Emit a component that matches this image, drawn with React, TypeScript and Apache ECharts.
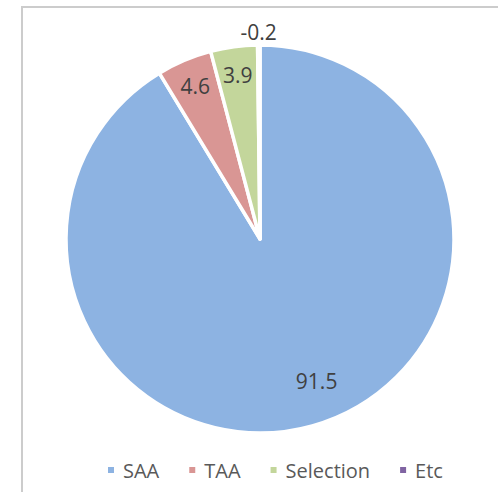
import React, { useEffect, useRef } from "react";
import * as echarts from "echarts";

const categories = ["SAA", "TAA", "Selection", "Etc"];
const values = [91.5, 4.6, 3.9, -0.2];
const colors = ["#8db3e2", "#d99694", "#c3d69b", "#8064a2"];

const CX = 260;
const CY = 239;
const R = 194;
const FONT = "'Open Sans', 'Noto Sans', sans-serif";

function sliceData() {
  return categories.map((name, i) => ({
    name,
    value: Math.abs(values[i]),
    itemStyle: { color: colors[i] },
  }));
}

function labelSeries(r0: number, r1: number, shown: number[], extra: any = {}) {
  return {
    type: "pie",
    silent: true,
    legendHoverLink: false,
    center: [CX, CY],
    radius: [r0, r1],
    startAngle: 90,
    clockwise: true,
    itemStyle: { color: "transparent", borderWidth: 0 },
    emphasis: { disabled: true },
    labelLine: { show: false },
    data: categories.map((name, i) => ({
      name,
      value: Math.abs(values[i]),
      label: { show: shown.indexOf(i) >= 0 },
    })),
    label: {
      position: "inside",
      color: "#404040",
      fontSize: 21,
      fontFamily: FONT,
      formatter: (p: any) => String(values[p.dataIndex]),
    },
    ...extra,
  };
}

export default function App() {
  const ref = useRef<HTMLDivElement>(null);
  useEffect(() => {
    if (!ref.current) return;
    const chart = echarts.init(ref.current, undefined, { renderer: "svg" });
    chart.setOption({
      animation: false,
      backgroundColor: "#ffffff",
      graphic: [
        {
          type: "rect",
          shape: { x: 22, y: 7, width: 520, height: 520 },
          style: { fill: "none", stroke: "#cccccc", lineWidth: 2 },
          silent: true,
        },
      ],
      legend: {
        data: categories.map((name, i) => ({ name, itemStyle: { color: colors[i] } })),
        left: 101,
        top: 455,
        icon: "rect",
        itemWidth: 8,
        itemHeight: 8,
        itemGap: 28,
        selectedMode: false,
        textStyle: { color: "#595959", fontSize: 20, fontFamily: FONT, padding: [0, 0, 0, 3] },
      },
      series: [
        {
          type: "pie",
          center: [CX, CY],
          radius: [0, R],
          startAngle: 90,
          clockwise: true,
          legendHoverLink: false,
          emphasis: { disabled: true },
          itemStyle: { borderColor: "#ffffff", borderWidth: 3.5 },
          label: { show: false },
          labelLine: { show: false },
          data: sliceData(),
        },
        labelSeries(R * 0.68, R, [1, 2]),
        labelSeries(R * 0.6, R, [0], {
          labelLayout: () => ({ dx: 14, dy: -10 }),
        }),
        labelSeries(R * 1.0, R * 1.1, [3]),
      ],
    });
    return () => chart.dispose();
  }, []);
  return (
    <div
      ref={ref}
      style={{ position: "fixed", left: 0, top: 0, width: 498, height: 492 }}
    />
  );
}
